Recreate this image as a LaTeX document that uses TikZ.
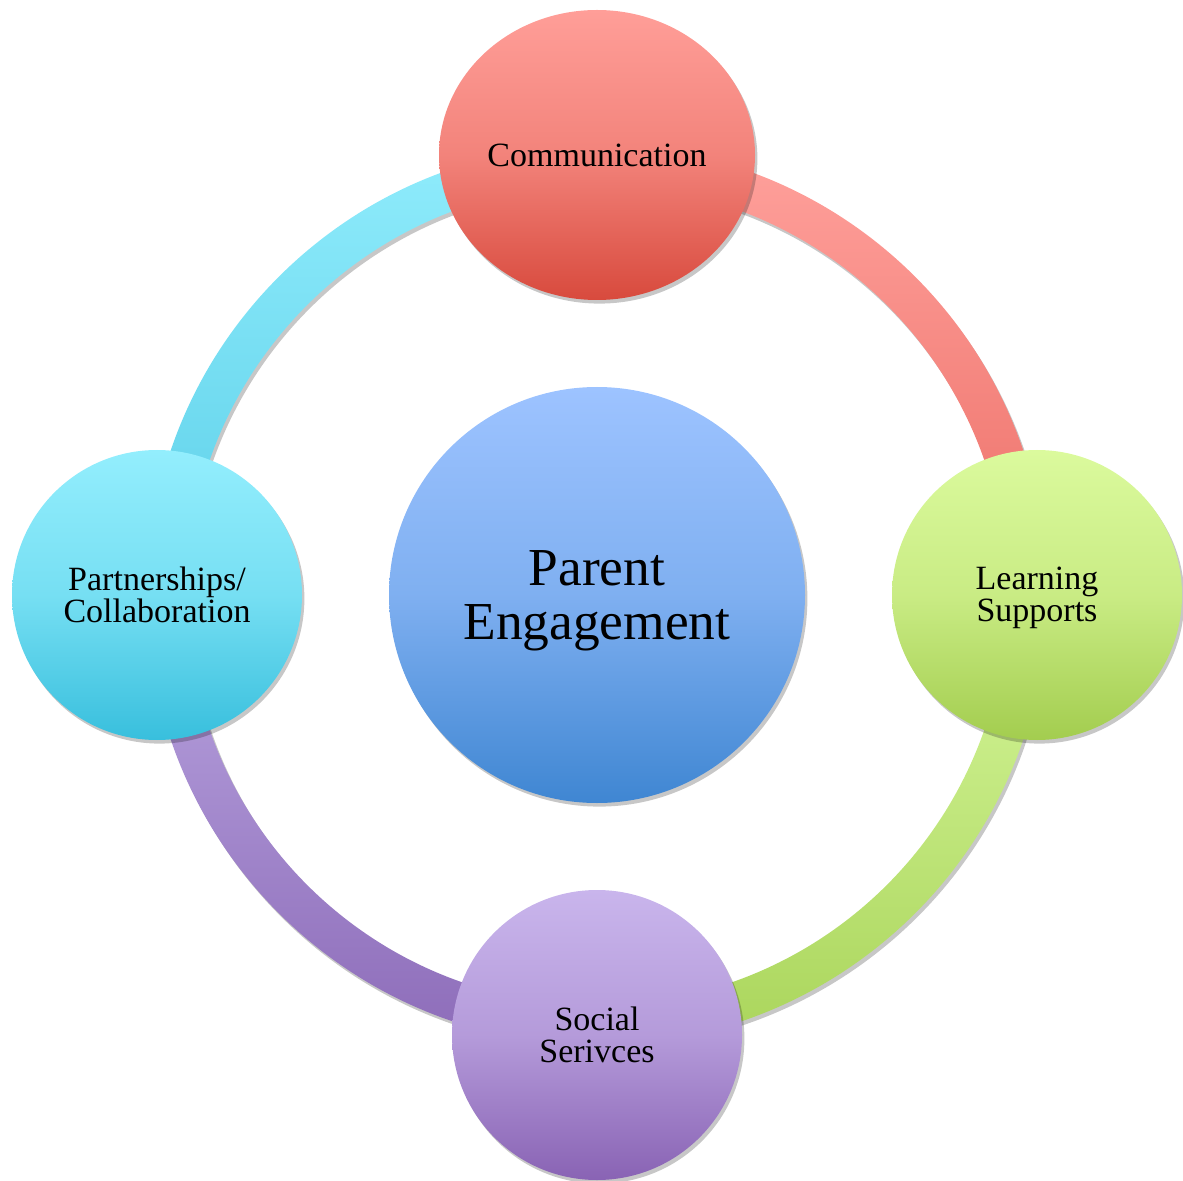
\documentclass[tikz,border=0pt]{standalone}
\usepackage{fontspec}
\setmainfont{Liberation Serif}
\usetikzlibrary{shapes.geometric,shadows,calc}
\definecolor{redT}{HTML}{FF9E98}
\definecolor{redB}{HTML}{D84A3D}
\definecolor{blueT}{HTML}{9DC3FF}
\definecolor{blueB}{HTML}{3F86D2}
\definecolor{cyanT}{HTML}{93EEFD}
\definecolor{cyanB}{HTML}{38BFDD}
\definecolor{greenT}{HTML}{DBFA9D}
\definecolor{greenB}{HTML}{A3CD4F}
\definecolor{purpT}{HTML}{C9B5EC}
\definecolor{purpB}{HTML}{8963B4}
\definecolor{rredT}{HTML}{FFA19C}
\definecolor{rredB}{HTML}{EC6F67}
\definecolor{rcyanT}{HTML}{90ECFC}
\definecolor{rcyanB}{HTML}{5BCFE8}
\definecolor{rgreenT}{HTML}{D6F79C}
\definecolor{rgreenB}{HTML}{AAD55B}
\definecolor{rpurpT}{HTML}{B9A5E0}
\definecolor{rpurpB}{HTML}{8D6CB9}
\tikzset{
  softshadow/.style={drop shadow={shadow xshift=1.2pt,shadow yshift=-1.8pt,opacity=0.22,fill=black}},
  grad/.style 2 args={top color=#1,bottom color=#2,middle color=#1!68!#2},
  smalltext/.style={align=center,inner sep=0pt,font=\fontsize{17}{16}\selectfont},
  bubble/.style={circle,minimum size=145pt,inner sep=0pt,softshadow,smalltext},
  hub/.style={circle,minimum size=208pt,inner sep=0pt,softshadow},
  hubtext/.style={align=center,inner sep=0pt,font=\fontsize{26.7}{27}\selectfont},
  ringseg/.style={softshadow}
}
\begin{document}
\begin{tikzpicture}[x=0.5pt,y=0.5pt]
\useasboundingbox (0,0) rectangle (1183,1180);
\coordinate (c) at (597,585);
% ring segments
\path[ringseg,top color=rredT,bottom color=rredB]
  ($(c)+(90:450)$) arc[start angle=90,end angle=0,radius=450]
  -- ($(c)+(0:410)$) arc[start angle=0,end angle=90,radius=410] -- cycle;
\path[ringseg,top color=rgreenT,bottom color=rgreenB]
  ($(c)+(0:450)$) arc[start angle=0,end angle=-90,radius=450]
  -- ($(c)+(-90:410)$) arc[start angle=-90,end angle=0,radius=410] -- cycle;
\path[ringseg,top color=rpurpT,bottom color=rpurpB]
  ($(c)+(-90:450)$) arc[start angle=-90,end angle=-180,radius=450]
  -- ($(c)+(180:410)$) arc[start angle=180,end angle=270,radius=410] -- cycle;
\path[ringseg,top color=rcyanT,bottom color=rcyanB]
  ($(c)+(90:450)$) arc[start angle=90,end angle=180,radius=450]
  -- ($(c)+(180:410)$) arc[start angle=180,end angle=90,radius=410] -- cycle;
% nodes
\node[hub,grad={blueT}{blueB}] (pe) at (c) {};
\node[hubtext] (pet) at ($(pe.center)+(0,-6)$) {Parent\\Engagement};
\node[ellipse,minimum width=158pt,minimum height=145pt,inner sep=0pt,softshadow,
  smalltext,grad={redT}{redB}] (com) at (597,1025) {Communication};
\node[bubble,grad={greenT}{greenB}] (ls) at (1037,585) {};
\node[smalltext] (lst) at ($(ls.center)+(0,-3)$) {Learning\\Supports};
\node[bubble,grad={purpT}{purpB}] (ss) at (597,145) {Social\\Serivces};
\node[bubble,grad={cyanT}{cyanB}] (pc) at (157,585) {Partnerships/\\Collaboration};
\end{tikzpicture}
\end{document}
